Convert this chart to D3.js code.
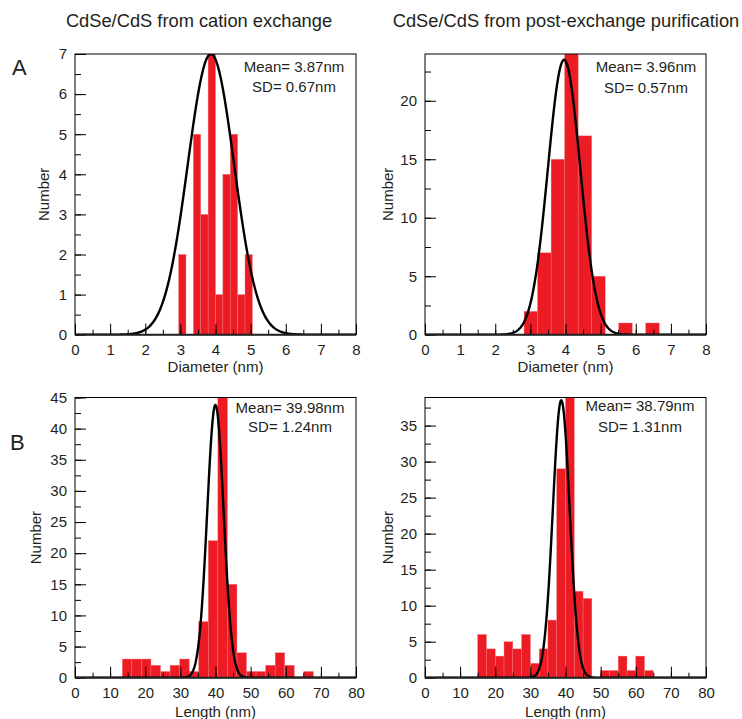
<!DOCTYPE html>
<html>
<head>
<meta charset="utf-8">
<script src="https://cdn.jsdelivr.net/npm/d3@7"></script>
<style>
  html, body { margin: 0; padding: 0; background: #fff; }
  svg { display: block; font-family: "Liberation Sans", Arial, Helvetica, sans-serif; }
</style>
</head>
<body>
<svg id="chart" width="742" height="719"></svg>
<script>
// ---------------- data ----------------
const titles = ["CdSe/CdS from cation exchange", "CdSe/CdS from post-exchange purification"];
const rowLetters = ["A", "B"];

// Panel A1: diameter, cation exchange
const a1Edges  = [2.95, 3.16, 3.37, 3.58, 3.79, 4.00, 4.21, 4.42, 4.63, 4.84, 5.05];
const a1Counts = [2, 0, 5, 3, 7, 1, 4, 5, 1, 2];
// Panel A2: diameter, post-exchange purification
const a2Edges  = [2.82, 3.205, 3.59, 3.975, 4.36, 4.745, 5.13, 5.515, 5.9, 6.285, 6.67];
const a2Counts = [2, 7, 15, 24, 17, 5, 0, 1, 0, 1];
// Panel B1: length, cation exchange
const b1Edges  = [13.47, 16.19, 18.91, 21.63, 24.35, 27.07, 29.79, 32.51, 35.23, 37.95, 40.67,
                  43.39, 46.11, 48.83, 51.55, 54.27, 56.99, 59.71, 62.43, 65.15, 67.87];
const b1Counts = [3, 3, 3, 2, 1, 2, 3, 1, 9, 22, 45, 15, 4, 1, 1, 2, 4, 2, 0, 1];
// Panel B2: length, post-exchange purification
const b2Edges  = [15, 17.5, 20, 22.5, 25, 27.5, 30, 32.5, 35, 37.5, 40,
                  42.5, 45, 47.5, 50, 52.5, 55, 57.5, 60, 62.5, 65];
const b2Counts = [6, 4, 3, 5, 4, 6, 2, 4, 8, 29, 39, 12, 11, 0, 1, 1, 3, 1, 3, 1];

// Gaussian fit curves (mean, width, peak height as drawn)
const fitMeans = [3.87, 3.96, 39.98, 38.79];
const fitWidths = [0.66, 0.46, 2.35, 2.4];
const fitPeaks = [7, 23.5, 43.8, 38.5];
const meanLabels = ["Mean= 3.87nm", "Mean= 3.96nm", "Mean= 39.98nm", "Mean= 38.79nm"];
const sdLabels = ["SD= 0.67nm", "SD= 0.57nm", "SD= 1.24nm", "SD= 1.31nm"];

// axis settings
const xDomainsA = [0, 8], xDomainsB = [0, 80];
const yMaxes = [7, 24, 45, 38.9];
const xLabels = ["Diameter (nm)", "Length (nm)"];
const yLabel = "Number";

// ---------------- layout ----------------
const svg = d3.select("#chart");
const RED = "#ED1C24";
const TXT = "#231f20";

const panels = [
  { edges: a1Edges, counts: a1Counts, x0: 75, x1: 356, y0: 54, y1: 334.7, xd: xDomainsA, ymax: yMaxes[0],
    xMajor: 1, xMinor: 0.5, yMajor: 1, yMinor: 0.5, xlab: xLabels[0], xlabY: 372, ylabX: 43.5,
    txtX: 294, txt1Y: 72, txt2Y: 92 },
  { edges: a2Edges, counts: a2Counts, x0: 425, x1: 706, y0: 54, y1: 334.7, xd: xDomainsA, ymax: yMaxes[1],
    xMajor: 1, xMinor: 0.5, yMajor: 5, yMinor: 2.5, xlab: xLabels[0], xlabY: 372, ylabX: 388,
    txtX: 646, txt1Y: 72, txt2Y: 93 },
  { edges: b1Edges, counts: b1Counts, x0: 75, x1: 356, y0: 397.5, y1: 677.7, xd: xDomainsB, ymax: yMaxes[2],
    xMajor: 10, xMinor: 5, yMajor: 5, yMinor: 2.5, xlab: xLabels[1], xlabY: 716.5, ylabX: 36,
    txtX: 290, txt1Y: 413, txt2Y: 432 },
  { edges: b2Edges, counts: b2Counts, x0: 425, x1: 706, y0: 397.5, y1: 677.7, xd: xDomainsB, ymax: yMaxes[3],
    xMajor: 10, xMinor: 5, yMajor: 5, yMinor: 2.5, xlab: xLabels[1], xlabY: 716.5, ylabX: 388,
    txtX: 640, txt1Y: 411, txt2Y: 432 }
];

// titles
svg.append("text").attr("x", 199).attr("y", 27).attr("text-anchor", "middle")
  .attr("font-size", 18.3).attr("fill", TXT).text(titles[0]);
svg.append("text").attr("x", 566).attr("y", 27).attr("text-anchor", "middle")
  .attr("font-size", 18.3).attr("fill", TXT).text(titles[1]);
// row letters
svg.append("text").attr("x", 12).attr("y", 75).attr("font-size", 22).attr("fill", TXT).text(rowLetters[0]);
svg.append("text").attr("x", 10).attr("y", 450).attr("font-size", 22).attr("fill", TXT).text(rowLetters[1]);

panels.forEach((p, i) => {
  const x = d3.scaleLinear().domain(p.xd).range([p.x0, p.x1]);
  const y = d3.scaleLinear().domain([0, p.ymax]).range([p.y1, p.y0]);
  const clipId = "clip" + i;
  svg.append("clipPath").attr("id", clipId).append("rect")
    .attr("x", p.x0).attr("y", p.y0).attr("width", p.x1 - p.x0).attr("height", p.y1 - p.y0);

  const g = svg.append("g");
  const bins = p.counts.map((c, k) => ({ lo: p.edges[k], hi: p.edges[k + 1], c }));
  g.append("g").attr("clip-path", `url(#${clipId})`)
    .selectAll("rect").data(bins.filter(b => b.c > 0)).join("rect")
    .attr("x", b => x(b.lo)).attr("width", b => x(b.hi) - x(b.lo))
    .attr("y", b => y(b.c)).attr("height", b => y(0) - y(b.c))
    .attr("fill", RED).attr("stroke", "#f3767c").attr("stroke-width", 0.4);

  // fit curve
  const step = (p.xd[1] - p.xd[0]) / 600;
  const pts = d3.range(p.xd[0], p.xd[1] + step / 2, step).map(v => [v,
    fitPeaks[i] * Math.exp(-0.5 * Math.pow((v - fitMeans[i]) / fitWidths[i], 2))]);
  g.append("path").attr("clip-path", `url(#${clipId})`)
    .datum(pts)
    .attr("d", d3.line().x(d => x(d[0])).y(d => y(d[1])))
    .attr("fill", "none").attr("stroke", "#000").attr("stroke-width", 2.4);

  // frame
  g.append("rect").attr("x", p.x0).attr("y", p.y0).attr("width", p.x1 - p.x0).attr("height", p.y1 - p.y0)
    .attr("fill", "none").attr("stroke", "#000").attr("stroke-width", 1);

  // axes
  const xMajorTicks = d3.range(p.xd[0], p.xd[1] + 1e-9, p.xMajor);
  const xMinorTicks = d3.range(p.xd[0], p.xd[1] + 1e-9, p.xMinor);
  const yMajorTicks = d3.range(0, p.ymax + 1e-9, p.yMajor);
  const yMinorTicks = d3.range(0, p.ymax + 1e-9, p.yMinor);

  const xMin = g.append("g").attr("transform", `translate(0,${p.y1})`)
    .call(d3.axisBottom(x).tickValues(xMinorTicks).tickSize(-5).tickFormat(""));
  const xMaj = g.append("g").attr("transform", `translate(0,${p.y1})`)
    .call(d3.axisBottom(x).tickValues(xMajorTicks).tickSize(-11).tickPadding(10).tickFormat(d3.format("d")));
  const yMin = g.append("g").attr("transform", `translate(${p.x0},0)`)
    .call(d3.axisLeft(y).tickValues(yMinorTicks).tickSize(-6).tickFormat(""));
  const yMaj = g.append("g").attr("transform", `translate(${p.x0},0)`)
    .call(d3.axisLeft(y).tickValues(yMajorTicks).tickSize(-11).tickPadding(8).tickFormat(d3.format("d")));

  [xMin, xMaj, yMin, yMaj].forEach(a => {
    a.selectAll(".domain").remove();
    a.selectAll("line").attr("stroke", "#000").attr("stroke-width", 1);
    a.selectAll("text").attr("font-size", 15).attr("fill", TXT)
      .attr("font-family", "'Liberation Sans', Arial, sans-serif");
  });
  // thicker bottom axis line
  g.append("line").attr("x1", p.x0).attr("x2", p.x1).attr("y1", p.y1).attr("y2", p.y1)
    .attr("stroke", "#222").attr("stroke-width", 2);

  // axis labels
  g.append("text").attr("x", (p.x0 + p.x1) / 2).attr("y", p.xlabY).attr("text-anchor", "middle")
    .attr("font-size", 15).attr("fill", TXT).text(p.xlab);
  g.append("text").attr("transform", `translate(${p.ylabX},${(p.y0 + p.y1) / 2}) rotate(-90)`)
    .attr("text-anchor", "middle").attr("dy", "0.35em")
    .attr("font-size", 15).attr("fill", TXT).text(yLabel);

  // stats text
  g.append("text").attr("x", p.txtX).attr("y", p.txt1Y).attr("text-anchor", "middle")
    .attr("font-size", 15).attr("fill", TXT).text(meanLabels[i]);
  g.append("text").attr("x", p.txtX).attr("y", p.txt2Y).attr("text-anchor", "middle")
    .attr("font-size", 15).attr("fill", TXT).text(sdLabels[i]);
});
</script>
</body>
</html>
